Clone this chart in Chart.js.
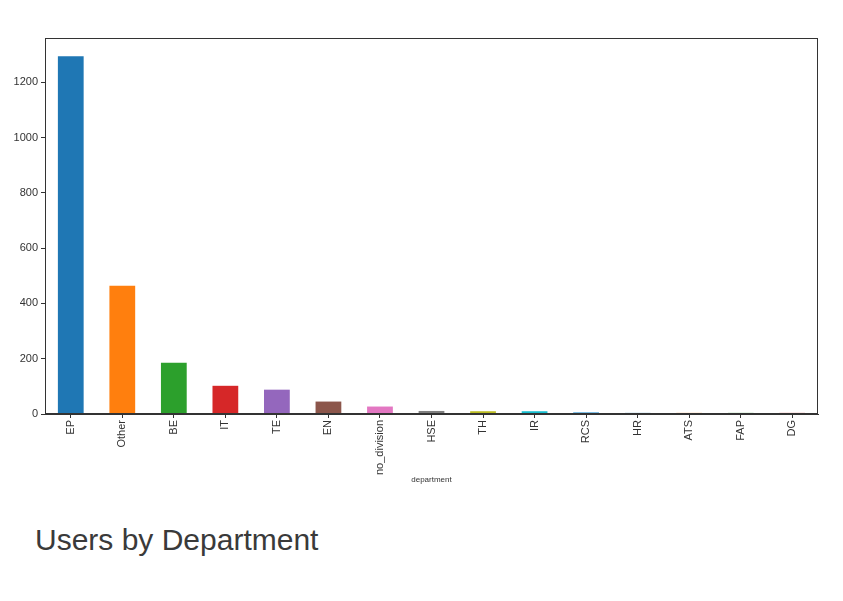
<!DOCTYPE html>
<html>
<head>
<meta charset="utf-8">
<script src="https://cdn.jsdelivr.net/npm/chart.js@4/dist/chart.umd.min.js"></script>
<style>
  html, body { margin: 0; padding: 0; background: #fff; }
  body { width: 843px; height: 601px; position: relative; overflow: hidden; font-family: "Liberation Sans", Arial, sans-serif; }
  #wrap { position: absolute; left: 0; top: 0; width: 843px; height: 486px; }
  #titulo { position: absolute; left: 35px; top: 521px; margin: 0; font-size: 30px; font-weight: normal; color: #3a3a3a; line-height: 38px; }
</style>
</head>
<body>
<div id="wrap"><canvas id="grafico"></canvas></div>
<h2 id="titulo">Users by Department</h2>
<script>
// Dados
const departamentos = ['EP', 'Other', 'BE', 'IT', 'TE', 'EN', 'no_division', 'HSE', 'TH', 'IR', 'RCS', 'HR', 'ATS', 'FAP', 'DG'];
const usuarios = [1294, 464, 185, 102, 88, 45, 27, 11, 10, 10, 6, 4, 4, 4, 4];
const cores = ['#1f77b4', '#ff7f0e', '#2ca02c', '#d62728', '#9467bd', '#8c564b', '#e377c2', '#7f7f7f', '#bcbd22', '#17becf', '#3c9ad6', '#1f77b4', '#ff7f0e', '#2ca02c', '#d62728'];
const ticksY = [0, 200, 400, 600, 800, 1000, 1200];

// Moldura completa em volta da área do gráfico (estilo matplotlib)
const moldura = {
    id: 'moldura',
    afterDraw(chart) {
        const { ctx, chartArea: a } = chart;
        ctx.save();
        ctx.strokeStyle = '#333';
        ctx.lineWidth = 1;
        ctx.strokeRect(a.left + 0.5, a.top + 0.5, a.right - a.left - 1, a.bottom - a.top - 1);
        ctx.restore();
    }
};

const ctx = document.getElementById('grafico').getContext('2d');
new Chart(ctx, {
    type: 'bar',
    data: {
        labels: departamentos,
        datasets: [{
            label: 'users',
            data: usuarios,
            backgroundColor: cores,
            barPercentage: 0.5,
            categoryPercentage: 1.0
        }]
    },
    options: {
        responsive: true,
        maintainAspectRatio: false,
        animation: false,
        layout: { padding: { top: 38, right: 25, left: 0, bottom: 0 } },
        plugins: { legend: { display: false }, tooltip: { enabled: false } },
        scales: {
            x: {
                grid: { display: true, offset: false, drawOnChartArea: false, tickLength: 4, color: '#333' },
                border: { display: true, color: '#333' },
                ticks: {
                    color: '#333', font: { size: 11, family: 'Liberation Sans' },
                    minRotation: 90, maxRotation: 90, padding: 2, autoSkip: false
                },
                title: { display: true, text: 'department', color: '#333', font: { size: 8, family: 'Liberation Sans' }, padding: { top: 2, bottom: 1 } },
                afterFit(scale) { scale.height = 72; }
            },
            y: {
                min: 0,
                max: 1360,
                afterBuildTicks(scale) { scale.ticks = ticksY.map(v => ({ value: v })); },
                grid: { display: true, drawOnChartArea: false, tickLength: 4, color: '#333' },
                border: { display: true, color: '#333' },
                ticks: { color: '#333', font: { size: 11, family: 'Liberation Sans' }, padding: 3, callback: v => String(v) },
                afterFit(scale) { scale.width = 45; }
            }
        }
    },
    plugins: [moldura]
});
</script>
</body>
</html>
